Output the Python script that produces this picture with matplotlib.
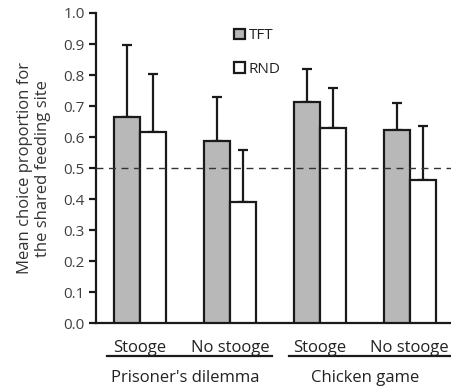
import matplotlib
matplotlib.use("Agg")
import matplotlib.pyplot as plt
import matplotlib.transforms as mtransforms
import numpy as np

conditions = ["Stooge", "No stooge", "Stooge", "No stooge"]
games = ["Prisoner's dilemma", "Chicken game"]
series = ["TFT", "RND"]
tft_mean = [0.666, 0.586, 0.713, 0.624]
tft_err = [0.232, 0.144, 0.105, 0.087]
rnd_mean = [0.615, 0.390, 0.629, 0.463]
rnd_err = [0.189, 0.169, 0.130, 0.172]

plt.rcParams['font.family'] = ['Open Sans', 'DejaVu Sans']

fig = plt.figure(figsize=(4.51, 3.88), dpi=100)
ax = fig.add_axes([0.213, 0.1667, 0.787, 0.7998])

x = np.arange(len(conditions))
w = 0.29
lw = 1.6
ax.bar(x - w/2, tft_mean, w, color='#b8b8b8', edgecolor='#1a1a1a', linewidth=lw,
       label=series[0], zorder=3)
ax.bar(x + w/2, rnd_mean, w, color='white', edgecolor='#1a1a1a', linewidth=lw,
       label=series[1], zorder=3)
ax.errorbar(x - w/2, tft_mean, yerr=[np.zeros(4), tft_err], fmt='none',
            ecolor='#1a1a1a', elinewidth=1.6, capsize=3.5, capthick=1.6, zorder=2)
ax.errorbar(x + w/2, rnd_mean, yerr=[np.zeros(4), rnd_err], fmt='none',
            ecolor='#1a1a1a', elinewidth=1.6, capsize=3.5, capthick=1.6, zorder=2)

ax.axhline(0.5, color='#333333', linestyle=(0, (5, 4)), linewidth=1.0, zorder=4)

ax.set_xlim(-0.49, 3.46)
ax.set_ylim(0, 1.0)
ax.set_yticks(np.arange(0, 1.01, 0.1))
ax.set_yticklabels([f"{v:.1f}" for v in np.arange(0, 1.01, 0.1)], fontsize=11, color='#404040')
ax.set_xticks([])
for s in ['top', 'right']:
    ax.spines[s].set_visible(False)
ax.spines['left'].set_linewidth(1.6)
ax.spines['bottom'].set_linewidth(1.6)
ax.spines['left'].set_color('#1a1a1a')
ax.spines['bottom'].set_color('#1a1a1a')
ax.tick_params(axis='y', length=5, width=1.6, color='#1a1a1a', pad=3)

ax.set_ylabel("Mean choice proportion for\nthe shared feeding site", fontsize=12,
              color='#333333', labelpad=9, linespacing=1.15)

trans = mtransforms.blended_transform_factory(ax.transData, ax.transAxes)
for xi, c in zip(x, conditions):
    ax.text(xi, -0.078, c, transform=trans, ha='center', va='center', fontsize=12,
            color='#222222')
for (x0, x1, xc), g in zip([(-0.367, 1.467, 0.5), (1.656, 3.46, 2.5)], games):
    ax.plot([x0, x1], [-0.106, -0.106], transform=trans, color='#1a1a1a',
            linewidth=1.6, clip_on=False)
    ax.text(xc, -0.177, g, transform=trans, ha='center', va='center', fontsize=12,
            color='#222222')

leg = ax.legend(loc='upper left', bbox_to_anchor=(0.35, 0.995), frameon=False,
                handlelength=0.7, handleheight=0.7, handletextpad=0.25,
                labelspacing=1.2, fontsize=11)
for t in leg.get_texts():
    t.set_color('#222222')

fig.savefig("out.png", dpi=100)
